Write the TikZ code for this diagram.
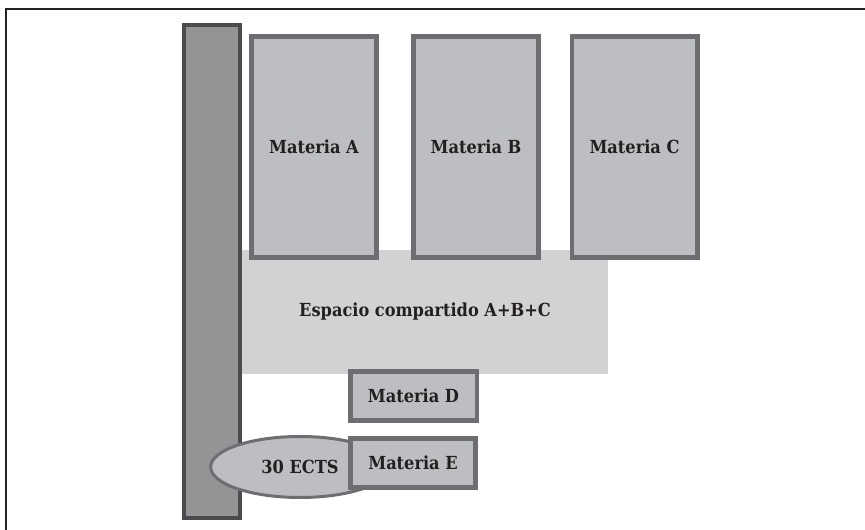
\documentclass[tikz,border=0pt]{standalone}
\usepackage{fontspec}
\setmainfont{DejaVu Serif Condensed}
\usetikzlibrary{shapes.geometric}
\definecolor{barfill}{HTML}{939496}
\definecolor{barline}{HTML}{4B4B4D}
\definecolor{boxfill}{HTML}{BDBEC1}
\definecolor{boxline}{HTML}{6D6E71}
\definecolor{sharefill}{HTML}{D1D2D4}
\definecolor{txt}{HTML}{231F20}
\definecolor{frameline}{HTML}{222222}
\tikzset{
  lbl/.style={font=\fontsize{13.5}{15}\selectfont\bfseries, text=txt},
  materia/.style={lbl, draw=boxline, fill=boxfill, line width=3.4pt, inner sep=0pt, minimum width=94.1pt},
  tall/.style={materia, minimum height=166.1pt},
  short/.style={materia, minimum width=94.9pt, minimum height=37.1pt},
}
\begin{document}
\begin{tikzpicture}[x=0.75pt,y=-0.75pt]
\useasboundingbox (0,0) rectangle (865,530);
\draw[frameline, line width=1.2pt] (6,530) -- (6,9) -- (866,9);
\node[lbl, fill=sharefill, inner sep=0pt, minimum width=274.5pt, minimum height=93pt] (share) at (425,312) {Espacio compartido A+B+C};
\node[draw=barline, fill=barfill, line width=3pt, inner sep=0pt, minimum width=42pt, minimum height=369.75pt] (bar) at (212,271.5) {};
\node[tall] (a) at (314,147) {Materia A};
\node[tall] (b) at (476,147) {Materia B};
\node[tall] (c) at (634.5,147) {Materia C};
\node[short] (d) at (413.5,396) {Materia D};
\node[lbl, ellipse, draw=boxline, fill=boxfill, line width=2.25pt, inner sep=0pt, minimum width=134pt, minimum height=45.75pt] (ects) at (300,467) {30 ECTS};
\node[short, minimum width=94.1pt, minimum height=36.75pt] (e) at (413,462.75) {Materia E};
\end{tikzpicture}
\end{document}
